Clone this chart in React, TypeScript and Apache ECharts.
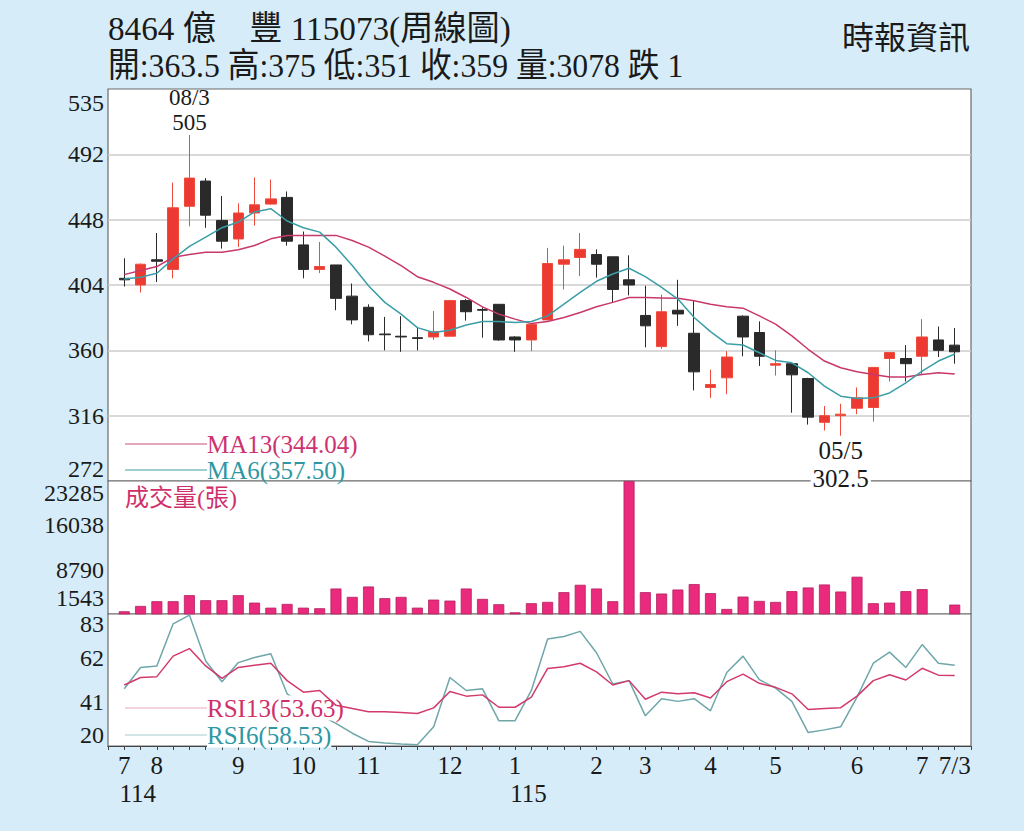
import React, { useEffect, useRef } from 'react';
import * as echarts from 'echarts';

// ---- data (weekly, 52 weeks) ----
const opens = [408.5, 404, 421, 414.5, 457, 474, 447.5, 435, 452.5, 458.5,
  463, 431, 414.5, 417.5, 396.5, 389, 371, 369.5, 368.5, 369,
  369.5, 393.5, 387.5, 391, 369, 367, 380.5, 418, 422.5, 424.5,
  423, 407.5, 383.5, 362.5, 387, 371.5, 335, 341.5, 383, 372,
  350, 351, 341, 311.5, 316, 321, 321.5, 354.5, 354.5, 356,
  367, 363.5];
const closes = [407.5, 418, 420, 456, 476, 451, 433.5, 452.5, 458, 462,
  433.5, 414.5, 416.5, 395, 380.5, 370.5, 370.5, 369, 368, 372.5,
  393.5, 386, 387, 367, 367, 377.5, 418.5, 421, 428, 418,
  401, 404, 376.5, 386, 384.5, 345.5, 337, 355.5, 369, 356,
  351, 343.5, 315, 316, 317, 328, 348.5, 358.5, 351, 369,
  360, 359];
const lows = [403, 399, 406, 408.5, 443.5, 442.5, 428.5, 429.5, 444, 458,
  430.5, 408.5, 412, 387, 377.5, 366, 360, 359, 360, 367,
  369.5, 380, 368.5, 366.5, 359, 359.5, 380, 401, 410, 409,
  392, 397, 362, 361, 376.5, 333, 328, 330.5, 356, 349.5,
  343, 318, 310, 306, 302.5, 317, 312, 339, 339, 344,
  355.5, 351];
const highs = [422, 418.5, 439, 473, 505, 476, 464, 459, 476.5, 475,
  467, 440, 433, 417.5, 405, 391, 382.5, 383, 375, 386.5,
  394, 394.5, 389, 391, 369.5, 377.5, 429, 430.5, 439, 428,
  423, 424, 403.5, 397.5, 407.5, 393.5, 347, 359.5, 383.5, 379.5,
  360, 351, 341.5, 322.5, 324, 335, 348.5, 358.5, 363.5, 381,
  376, 375];
const ma13 = [411, 413.7, 416.4, 422.7, 424.5, 426.1, 426.1, 427.7, 430.6, 435.1,
  437.4, 437.4, 437.4, 437.4, 434, 429.5, 423.5, 417, 409.6, 405.8,
  401.3, 395.6, 389.3, 384.4, 381, 378, 379.4, 382.1, 385.5, 389.3,
  392.3, 395.6, 395.6, 395.3, 395, 393.4, 391.1, 389.3, 388.4, 383.2,
  377.6, 369.7, 360.7, 352.8, 348.3, 345.6, 343.8, 342, 342, 343.8,
  344.9, 344.04];
const ma6 = [408, 409.2, 411.9, 421.6, 430, 436.3, 442.6, 446.4, 453.2, 455.4,
  447.1, 442.6, 439.6, 429.5, 417.1, 403.5, 392.3, 384.4, 375.3, 372,
  373.5, 377.1, 379.4, 379.4, 378.7, 379.4, 383.2, 391.1, 399, 406.5,
  411.4, 415.3, 409.6, 402.4, 394.5, 382.1, 372.6, 364.5, 363.6, 358.4,
  353.2, 351.6, 344.9, 335.9, 329.1, 327.5, 328, 331.3, 338.1, 346,
  352.8, 357.5];
const volumes = [1988, 2861, 3635, 3635, 4623, 3800, 3800, 4623, 3404, 2581,
  3190, 2581, 2482, 5710, 4343, 6039, 4129, 4343, 2581, 3898,
  3734, 5710, 4014, 3141, 1823, 3305, 3519, 5117, 6319, 5710,
  3635, 23285, 5117, 4886, 5545, 6435, 4952, 2367, 4392, 3684,
  3519, 5282, 5875, 6369, 5216, 7637, 3305, 3404, 5282, 5611,
  1600, 3078];
const rsi13 = [49.1, 52.7, 53.1, 62.9, 66.5, 58.2, 52.3, 57.5, 58.5, 59.5,
  51.2, 45.7, 46.5, 39.4, 37.9, 36.3, 36.3, 36, 35.5, 38.2,
  46, 43.8, 44.4, 38.5, 38.5, 43.3, 57, 57.8, 59.5, 55.4,
  49.1, 51.2, 42.3, 45.7, 44.9, 45.4, 42.9, 50.7, 54.3, 49.9,
  48, 44.9, 37.4, 37.9, 38.3, 43.8, 51.2, 54, 51.5, 57.1,
  53.8, 53.63];
const rsi6 = [47.3, 57.5, 58.2, 78.3, 82.5, 60.6, 50.7, 59.8, 62.2, 64,
  44.9, 39.4, 34.7, 30.8, 26.1, 22.2, 21.4, 20.9, 20.6, 29.2,
  52.7, 46.5, 47.3, 32.1, 32.1, 46.5, 71.1, 72.3, 74.7, 64.5,
  49.6, 51.2, 34.4, 42.6, 41.3, 42.6, 36.8, 55.1, 62.9, 51.7,
  47.6, 41.3, 26.4, 27.7, 29.2, 43.3, 59.5, 64.8, 57.5, 68.4,
  59.5, 58.53];

// tick labels
const monthLabels: [number, string][] = [[0, '7'], [2, '8'], [7, '9'], [11, '10'], [15, '11'], [20, '12'],
  [24, '1'], [29, '2'], [32, '3'], [36, '4'], [40, '5'], [45, '6'], [49, '7'], [51, '7/3']];
const yearLabels: [number, string][] = [[0, '114'], [24, '115']];
const priceTicks = [272, 316, 360, 404, 448, 492, 535];
const volumeTicks = [1543, 8790, 16038, 23285];
const rsiTicks = [20, 41, 62, 83];
const highNote = { index: 4, label: '08/3' };
const lowNote = { index: 44, label: '05/5' };
const titleText = '8464 億\u3000豐 115073(周線圖)';
const sourceText = '時報資訊';

const FONT = '"Liberation Serif", "Noto Sans CJK TC", serif';

export default function App() {
  const ref = useRef<HTMLDivElement>(null);
  useEffect(() => {
    if (!ref.current) return;
    const chart = echarts.init(ref.current, undefined, { renderer: 'svg' });
    const n = opens.length;
    const cats = ['p0', ...opens.map((_, i) => 'w' + i), 'p1'];
    const pad = (a: any[]) => ['-', ...a, '-'];
    const ohlc = opens.map((o, i) => [o, closes[i], lows[i], highs[i]]);
    const last = n - 1;
    const subText = `開:${opens[last]} 高:${highs[last]} 低:${lows[last]} 收:${closes[last]} 量:${volumes[last]} 跌 ${closes[last - 1] - closes[last]}`;
    const mMap: Record<number, string> = {};
    monthLabels.forEach(([i, s]) => (mMap[i] = s));
    const yMap: Record<number, string> = {};
    yearLabels.forEach(([i, s]) => (yMap[i] = s));

    const base = { fontSize: 24, fontFamily: FONT, color: '#1a1a1a' };
    const edgeLabel = (lo: number, hi: number, padTop: number, padBot: number) => ({
      ...base,
      margin: 4,
      formatter: (v: number) => (v === hi ? `{t|${v}}` : v === lo ? `{b|${v}}` : `{n|${v}}`),
      rich: {
        t: { ...base, padding: [padTop, 0, 0, 0] },
        b: { ...base, padding: [0, 0, padBot, 0] },
        n: { ...base },
      },
    });

    const grids = [
      { top: 89, height: 392 },
      { top: 481, height: 133 },
      { top: 614, height: 132 },
    ].map((g) => ({
      left: 108, width: 863, top: g.top, height: g.height, show: true,
      backgroundColor: '#ffffff', borderColor: '#6a6a6a', borderWidth: 1.2,
    }));

    const xAxisBase = (gi: number) => ({
      type: 'category', gridIndex: gi, data: cats, boundaryGap: false,
      axisLine: { show: false }, axisTick: { show: false }, axisLabel: { show: false },
      splitLine: { show: false },
    });

    const option: any = {
      animation: false,
      backgroundColor: '#d6edf9',
      textStyle: { fontFamily: FONT },
      grid: grids,
      xAxis: [
        xAxisBase(0),
        xAxisBase(1),
        {
          ...xAxisBase(2),
          axisLine: { show: true, lineStyle: { color: '#444', width: 1.2 } },
          axisTick: { show: true, interval: 0, length: 4, lineStyle: { color: '#444' } },
          axisLabel: {
            show: true, interval: 0, margin: 5, ...base, fontSize: 25,
            formatter: (_v: string, idx: number) => {
              const i = idx - 1;
              if (mMap[i] === undefined) return '';
              return yMap[i] ? `{m|${mMap[i]}}\n{y|${yMap[i]}}` : `{m|${mMap[i]}}`;
            },
            rich: {
              m: { ...base, fontSize: 25, lineHeight: 28 },
              y: { ...base, fontSize: 25, lineHeight: 28, padding: [0, 0, 0, 27] },
            },
          },
        },
      ],
      yAxis: [
        {
          type: 'value', gridIndex: 0, min: 272, max: 536, interval: 44,
          axisLine: { show: false }, axisTick: { show: false },
          splitLine: { show: true, showMinLine: false, showMaxLine: false, lineStyle: { color: '#cdcdcd', width: 1.5 } },
          axisLabel: { ...edgeLabel(272, 535, 25, 24), customValues: priceTicks },
        },
        {
          type: 'value', gridIndex: 1, min: 1543, max: 23285,
          axisLine: { show: false }, axisTick: { show: false }, splitLine: { show: false },
          axisLabel: { ...edgeLabel(1543, 23285, 24, 32), customValues: volumeTicks },
        },
        {
          type: 'value', gridIndex: 2, min: 20, max: 83,
          axisLine: { show: false }, axisTick: { show: false }, splitLine: { show: false },
          axisLabel: { ...edgeLabel(20, 83, 20, 22), customValues: rsiTicks },
        },
      ],
      series: [
        {
          type: 'candlestick', xAxisIndex: 0, yAxisIndex: 0, barWidth: 11,
          data: pad(ohlc).map((d: any) => (d === '-' ? ['-', '-', '-', '-'] : d)),
          itemStyle: { color: '#ec3a33', color0: '#2a2a2a', borderColor: '#ee4b3b', borderColor0: '#2a2a2a', borderWidth: 1 },
          markPoint: {
            symbol: 'circle', symbolSize: 1, silent: true, itemStyle: { color: 'rgba(0,0,0,0)' },
            data: [
              {
                coord: [highNote.index + 1, highs[highNote.index]],
                label: {
                  show: true, position: 'top', distance: 0, ...base,
                  formatter: `{a|${highNote.label}}\n{a|${highs[highNote.index]}}`,
                  rich: { a: { ...base, fontSize: 23, lineHeight: 25 } },
                },
              },
              {
                coord: [lowNote.index + 1, lows[lowNote.index]],
                label: {
                  show: true, position: 'bottom', distance: 0, ...base,
                  formatter: `{a|${lowNote.label}}\n{b|${lows[lowNote.index]}}`,
                  rich: {
                    a: { ...base, fontSize: 25, lineHeight: 28 },
                    b: { ...base, fontSize: 25, lineHeight: 28, backgroundColor: '#ffffff', padding: [0, 2, 0, 2] },
                  },
                },
              },
            ],
          },
        },
        {
          type: 'line', xAxisIndex: 0, yAxisIndex: 0, data: pad(ma13), symbol: 'none',
          lineStyle: { color: '#c8386c', width: 1.5 },
        },
        {
          type: 'line', xAxisIndex: 0, yAxisIndex: 0, data: pad(ma6), symbol: 'none',
          lineStyle: { color: '#3b9ea6', width: 1.5 },
        },
        {
          type: 'bar', xAxisIndex: 1, yAxisIndex: 1, data: pad(volumes), barWidth: 11,
          itemStyle: { color: '#ea2a7c', borderColor: '#b5215f', borderWidth: 0.8 },
        },
        {
          type: 'line', xAxisIndex: 2, yAxisIndex: 2, data: pad(rsi6), symbol: 'none', z: 2,
          lineStyle: { color: '#6ea6aa', width: 1.5 },
        },
        {
          type: 'line', xAxisIndex: 2, yAxisIndex: 2, data: pad(rsi13), symbol: 'none', z: 60,
          lineStyle: { color: '#d23a6c', width: 1.5 },
        },
      ],
      graphic: [
        { type: 'text', x: 108, y: 28, scaleX: 0.977, z: 50, style: { text: titleText, fontSize: 34, fontFamily: FONT, fill: '#1a1a1a', verticalAlign: 'middle' } },
        { type: 'text', x: 108, y: 66, scaleX: 0.933, z: 50, style: { text: subText, fontSize: 34, fontFamily: FONT, fill: '#1a1a1a', verticalAlign: 'middle' } },
        { type: 'text', x: 970, y: 38, z: 50, style: { text: sourceText, fontSize: 32, fontFamily: FONT, fill: '#1a1a1a', align: 'right', verticalAlign: 'middle' } },
        { type: 'line', z: 50, shape: { x1: 125, y1: 444, x2: 207, y2: 444 }, style: { stroke: '#c94d7d', lineWidth: 1 } },
        { type: 'text', x: 207, y: 444, z: 50, style: { text: `MA13(${ma13[last].toFixed(2)})`, fontSize: 25, fontFamily: FONT, fill: '#cc3370', verticalAlign: 'middle' } },
        { type: 'line', z: 50, shape: { x1: 125, y1: 470, x2: 207, y2: 470 }, style: { stroke: '#3d9ea6', lineWidth: 1 } },
        { type: 'text', x: 207, y: 470, z: 50, style: { text: `MA6(${ma6[last].toFixed(2)})`, fontSize: 25, fontFamily: FONT, fill: '#2e97a3', verticalAlign: 'middle' } },
        { type: 'text', x: 125, y: 498, z: 50, style: { text: '成交量(張)', fontSize: 24, fontFamily: FONT, fill: '#d0306a', verticalAlign: 'middle' } },
        { type: 'line', z: 50, shape: { x1: 125, y1: 708, x2: 207, y2: 708 }, style: { stroke: '#e6a7bd', lineWidth: 1.2 } },
        { type: 'text', x: 207, y: 708, z: 50, style: { text: `RSI13(${rsi13[last].toFixed(2)})`, fontSize: 25, fontFamily: FONT, fill: '#d0306a', verticalAlign: 'middle', backgroundColor: '#ffffff' } },
        { type: 'line', z: 50, shape: { x1: 125, y1: 735, x2: 207, y2: 735 }, style: { stroke: '#a9cbce', lineWidth: 1.2 } },
        { type: 'text', x: 207, y: 735, z: 50, style: { text: `RSI6(${rsi6[last].toFixed(2)})`, fontSize: 25, fontFamily: FONT, fill: '#2e97a3', verticalAlign: 'middle', backgroundColor: '#ffffff' } },
      ],
    };
    chart.setOption(option);
    return () => chart.dispose();
  }, []);
  return <div ref={ref} style={{ position: 'fixed', left: 0, top: 0, width: 1024, height: 831 }} />;
}
